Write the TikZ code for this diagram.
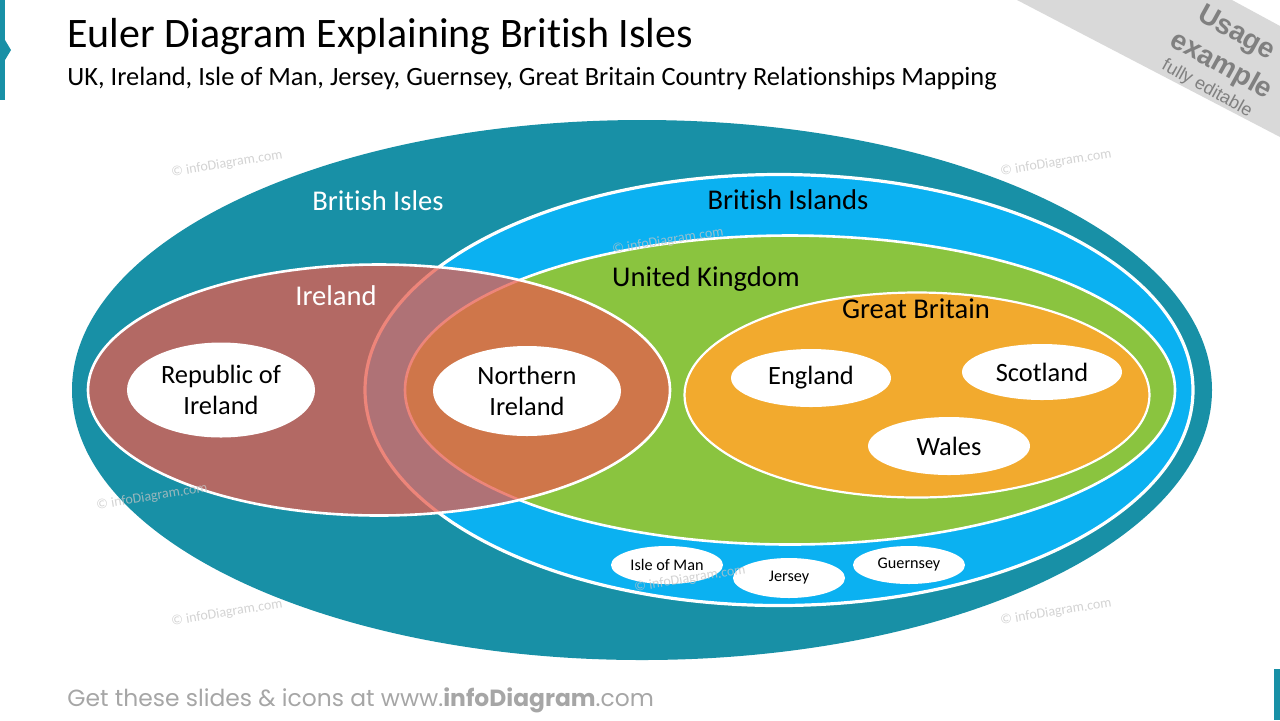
\documentclass[tikz,border=0pt]{standalone}
\usepackage{fontspec}
\setmainfont{Carlito}[Ligatures=NoCommon]
\newfontfamily\footfont{Poppins}
\newfontfamily\badgefont{Liberation Sans}
\usepackage{tikz}
\usetikzlibrary{shapes.geometric}
\definecolor{isleteal}{RGB}{24,144,166}
\definecolor{islandblue}{RGB}{11,177,241}
\definecolor{ukgreen}{RGB}{138,196,63}
\definecolor{gborange}{RGB}{242,170,46}
\definecolor{irered}{RGB}{231,93,78}
\definecolor{badgegray}{RGB}{217,217,217}
\definecolor{badgetext}{RGB}{128,128,128}
\definecolor{footgray}{RGB}{166,166,166}
\definecolor{markgray}{RGB}{196,196,196}
\tikzset{
  region/.style={ellipse,inner sep=0pt,draw=white,line width=1.3pt},
  member/.style={ellipse,inner sep=0pt,fill=white,align=center,
                 font=\fontsize{13.2}{15.5}\selectfont,minimum width=80pt,minimum height=28.5pt},
  islet/.style={member,font=\fontsize{8.1}{9}\selectfont,minimum width=56pt,minimum height=19pt},
  lab/.style={anchor=base,font=\fontsize{14.3}{16}\selectfont},
  wmark/.style={text=markgray,opacity=0.75,rotate=9,font=\fontsize{7}{8}\selectfont},
  badge/.style={rotate=-29,text=badgetext,font=\badgefont\bfseries\fontsize{14}{15}\selectfont},
}

\begin{document}
\begin{tikzpicture}[x=0.5pt,y=-0.5pt]
  \path[use as bounding box] (0,0) rectangle (1280,720);

  \fill[isleteal] (0,0) rectangle (5,100);
  \fill[isleteal] (5,40) -- (11,50) -- (5,60) -- cycle;
  \fill[isleteal] (1274,669) rectangle (1280,720);
  \fill[badgegray] (1017,0) -- (1232,0) -- (1280,26) -- (1280,137) -- cycle;

  \node[anchor=base west,inner sep=0pt,font=\fontsize{21}{22}\selectfont] (title) at (67,47)
    {Euler Diagram Explaining British Isles};
  \node[anchor=base west,inner sep=0pt,font=\fontsize{13.2}{14}\selectfont] (subtitle) at (67,85)
    {UK, Ireland, Isle of Man, Jersey, Guernsey, Great Britain Country Relationships Mapping};

  \node[badge] (usage) at (1236,34) {Usage};
  \node[badge] (example) at (1221,66) {example};
  \node[badge,font=\badgefont\fontsize{9}{10}\selectfont] (editable) at (1207,89) {fully editable};

  \node[ellipse,inner sep=0pt,fill=isleteal,minimum width=570pt,minimum height=270pt] (isles) at (642,390) {};
  \node[region,fill=islandblue,line width=1.6pt,minimum width=414pt,minimum height=215.5pt] (islands) at (779,390) {};
  \node[region,fill=ukgreen,minimum width=385pt,minimum height=154.5pt] (uk) at (790,390) {};
  \node[region,fill=gborange,line width=1.1pt,minimum width=232.5pt,minimum height=102.5pt] (gb) at (917,395) {};
  \node[region,fill=irered,fill opacity=0.75,draw opacity=1,minimum width=291pt,minimum height=125.5pt] (ireland) at (379,390) {};

  \node[lab,text=white] (islesl) at (378,210) {British Isles};
  \node[lab] (islandsl) at (788,209) {British Islands};
  \node[lab] (ukl) at (706,286) {United Kingdom};
  \node[lab,text=white] (irelandl) at (336,305) {Ireland};
  \node[lab] (gbl) at (916,318) {Great Britain};

  \node[member,minimum width=94pt,minimum height=47.5pt] (roi) at (221,390) {Republic of\\Ireland};
  \node[member,minimum width=94pt,minimum height=45pt] (ni) at (527,391) {Northern\\Ireland};
  \node[member,minimum height=29pt] (england) at (811,378) {England};
  \node[member,minimum height=28pt] (scotland) at (1042,372) {Scotland};
  \node[member,minimum width=81pt,minimum height=29pt] (wales) at (949,446) {Wales};
  \node[islet] (man) at (667,565) {Isle of Man};
  \node[islet,minimum height=20pt] (jersey) at (789,578) {Jersey};
  \node[islet] (guernsey) at (909,565) {Guernsey};

  \node[wmark] (wm1) at (227,164) {© infoDiagram.com};
  \node[wmark] (wm2) at (1056,163) {© infoDiagram.com};
  \node[wmark] (wm3) at (668,241) {© infoDiagram.com};
  \node[wmark] (wm4) at (152,497) {© infoDiagram.com};
  \node[wmark] (wm5) at (690,579) {© infoDiagram.com};
  \node[wmark] (wm6) at (227,613) {© infoDiagram.com};
  \node[wmark] (wm7) at (1056,612) {© infoDiagram.com};

  \node[anchor=base west,inner sep=0pt,text=footgray,font=\footfont\fontsize{11.7}{13}\selectfont] (footer) at (67,706)
    {Get these slides \& icons at www.\textbf{infoDiagram}.com};
\end{tikzpicture}
\end{document}
